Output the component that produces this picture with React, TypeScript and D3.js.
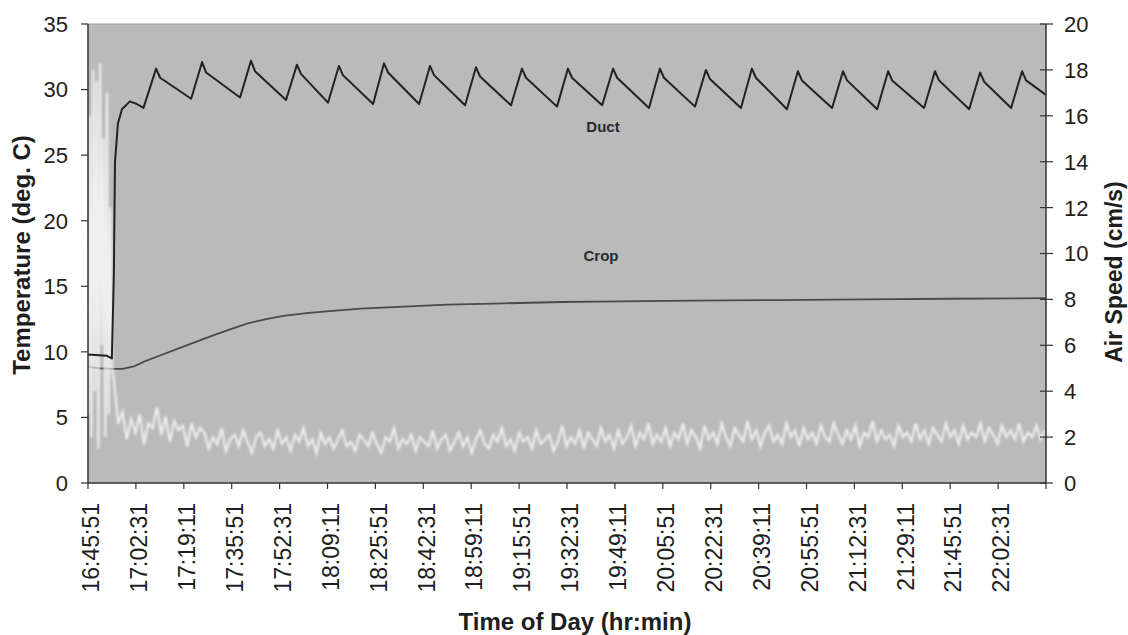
import React from "react";
import * as d3 from "d3";

// Duct and crop temperature (deg C, left axis) and air speed (cm/s, right axis)
// x values are minutes after 16:45:51

const xTickLabels = [
  "16:45:51", "17:02:31", "17:19:11", "17:35:51", "17:52:31", "18:09:11", "18:25:51",
  "18:42:31", "18:59:11", "19:15:51", "19:32:31", "19:49:11", "20:05:51", "20:22:31",
  "20:39:11", "20:55:51", "21:12:31", "21:29:11", "21:45:51", "22:02:31",
];
const tempTicks = [0, 5, 10, 15, 20, 25, 30, 35];
const speedTicks = [0, 2, 4, 6, 8, 10, 12, 14, 16, 18, 20];

const ductTemp: [number, number][] = [
  [0, 9.8], [6.6, 9.7], [8.3, 9.5], [9.0, 16.0], [9.4, 24.5], [10.4, 27.4], [11.8, 28.5],
  [14.6, 29.1], [17.0, 28.9], [19.3, 28.6],
  [23.7, 31.6], [25.1, 30.9], [35.9, 29.3],
  [39.7, 32.1], [41.1, 31.3], [52.9, 29.4],
  [56.7, 32.2], [58.1, 31.4], [68.9, 29.2],
  [72.7, 31.9], [74.1, 31.2], [83.5, 29.0],
  [87.3, 31.8], [88.7, 31.1], [99.2, 28.9],
  [103.0, 32.0], [104.4, 31.3], [115.2, 28.9],
  [119.0, 31.8], [120.4, 31.1], [131.2, 28.8],
  [135.0, 31.7], [136.4, 31.0], [147.2, 28.8],
  [151.0, 31.6], [152.4, 30.9], [163.2, 28.7],
  [167.0, 31.6], [168.4, 30.9], [178.9, 28.8],
  [182.7, 31.6], [184.1, 30.9], [195.2, 28.6],
  [199.0, 31.6], [200.4, 30.9], [211.2, 28.7],
  [215.0, 31.5], [216.4, 30.8], [227.2, 28.6],
  [231.0, 31.6], [232.4, 30.9], [243.2, 28.5],
  [247.0, 31.4], [248.4, 30.7], [258.9, 28.6],
  [262.7, 31.4], [264.1, 30.7], [274.6, 28.5],
  [278.4, 31.4], [279.8, 30.7], [290.9, 28.6],
  [294.7, 31.4], [296.1, 30.7], [306.6, 28.5],
  [310.4, 31.3], [311.8, 30.6], [321.2, 28.6],
  [325.0, 31.4], [326.4, 30.7], [333.3, 29.6],
];

const cropTemp: [number, number][] = [
  [0, 8.85], [4, 8.75], [8, 8.7], [12, 8.7], [16, 8.9], [20, 9.3], [26, 9.8], [32, 10.3],
  [38, 10.8], [44, 11.3], [50, 11.75], [56, 12.2], [62, 12.5], [68, 12.75], [76, 12.95],
  [84, 13.1], [95, 13.3], [110, 13.45], [125, 13.6], [145, 13.7], [165, 13.8],
  [185, 13.85], [210, 13.9], [240, 13.95], [270, 14.0], [300, 14.05], [333.3, 14.1],
];

// start-up burst of the anemometer
const speedStart: [number, number][] = [
  [0, 3], [0.6, 16], [1.2, 2], [1.8, 18], [2.4, 4], [3.0, 17.5], [3.6, 1.5], [4.2, 18.3],
  [4.8, 6], [5.4, 15], [6.0, 2], [6.6, 17], [7.2, 3], [7.8, 12], [8.4, 5],
];
// then one reading every 1.5 min from minute 9
const speedStep = 1.5;
const speedFrom = 9;
const speedValues = [
  4.5, 2.6, 3.1, 1.9, 2.8, 2.2, 3.0, 1.7, 2.6, 2.4, 3.3, 2.1, 2.9, 1.8, 2.7, 2.3, 2.5, 1.6, 2.6, 2.0, 2.4,
  2.2, 1.5, 2.0, 1.7, 2.4, 1.4, 1.9, 2.1, 1.6, 2.3,
  1.8, 1.3, 2.0, 2.2, 1.6, 1.9, 1.5, 2.3, 1.7, 2.0,
  1.4, 2.1, 1.8, 2.4, 1.6, 1.9, 1.3, 2.2, 1.7, 2.0,
  1.5, 1.9, 2.3, 1.6, 1.8, 1.4, 2.1, 1.9, 1.6, 2.2,
  1.7, 1.3, 2.0, 1.8, 2.4, 1.5, 1.9, 1.7, 2.1, 1.4,
  2.0, 1.8, 1.6, 2.3, 1.5, 1.9, 2.1, 1.4, 1.8, 2.2,
  1.6, 2.0, 1.3, 1.9, 2.3, 1.7, 1.5, 2.1, 1.8, 2.4,
  1.6, 1.9, 1.4, 2.2, 1.8, 2.0, 1.5, 2.3, 1.7, 1.9,
  2.1, 1.4, 1.8, 2.5, 1.6, 2.0, 1.7, 2.3, 1.5, 2.2,
  1.9, 1.6, 2.4, 1.8, 2.1, 1.5, 2.3, 1.7, 2.0, 2.5,
  1.6, 2.2, 1.9, 2.6, 1.7, 2.1, 1.8,
  2.4, 1.6, 2.2, 1.9, 2.6, 1.7, 2.3, 2.0, 1.5, 2.5,
  1.9, 2.2, 1.7, 2.6, 2.0, 1.6, 2.4, 2.1, 1.8, 2.7,
  1.9, 2.3, 1.6, 2.2, 2.5, 1.8, 2.1, 1.7, 2.6, 2.0,
  2.3, 1.6, 2.4, 1.9, 2.2, 1.7, 2.5, 2.0, 1.8, 2.6,
  2.1, 1.7, 2.3, 1.9, 2.5, 1.6, 2.2, 2.0, 2.7, 1.8,
  2.3, 1.9, 2.1, 1.6, 2.5, 2.0, 2.2, 1.8, 2.6, 1.9,
  2.3, 1.7, 2.4, 2.1, 1.8, 2.6, 2.0, 2.3, 1.7, 2.5,
  1.9, 2.2, 2.0, 2.6, 1.8, 2.4, 2.1, 1.7, 2.5, 2.0,
  2.3, 1.9, 2.6, 1.8, 2.2, 2.0, 2.5, 1.9, 2.3,
];

const FONT = "Arial, 'Liberation Sans', sans-serif";
const INK = "#1e1e1e";

export default function App() {
  const width = 1128, height = 635;
  const left = 88, right = 1046, top = 24, bottom = 483;

  // 20000 s across the axis, a tick every 1000 s
  const x = d3.scaleLinear().domain([0, 20000 / 60]).range([left, right]);
  const yT = d3.scaleLinear().domain([0, 35]).range([bottom, top]);
  const yS = d3.scaleLinear().domain([0, 20]).range([bottom, top]);

  const tempLine = d3.line<[number, number]>().x(d => x(d[0])).y(d => yT(d[1]));
  const speedLine = d3.line<[number, number]>().x(d => x(d[0])).y(d => yS(d[1]));

  const speedData: [number, number][] = speedStart.concat(
    speedValues.map((v, i) => [speedFrom + i * speedStep, v] as [number, number])
  );

  const xTicks = d3.range(0, 21).map(k => (k * 1000) / 60);

  return (
    <svg width={width} height={height} style={{ position: "absolute", left: 0, top: 0, background: "#fff" }}>
      <defs>
        <filter id="soft" x="-5%" y="-5%" width="110%" height="110%">
          <feGaussianBlur stdDeviation="0.9" />
        </filter>
      </defs>
      <rect x={left} y={top} width={right - left} height={bottom - top} fill="#bababa" />
      <line x1={left} x2={right} y1={top} y2={top} stroke="#9a9a9a" strokeWidth={1} />

      <path d={tempLine(cropTemp) || ""} fill="none" stroke="#4a4a4a" strokeWidth={1.8} />
      <path d={speedLine(speedData) || ""} fill="none" stroke="#f8f8f8" strokeWidth={2.2}
        strokeOpacity={0.85} filter="url(#soft)" />
      <path d={tempLine(ductTemp) || ""} fill="none" stroke="#222" strokeWidth={2} strokeLinejoin="round" />

      <text x={603} y={132} textAnchor="middle" fontFamily={FONT} fontWeight="bold" fontSize={15} fill="#2a2a2a">Duct</text>
      <text x={601} y={261} textAnchor="middle" fontFamily={FONT} fontWeight="bold" fontSize={15} fill="#2a2a2a">Crop</text>

      {/* left axis */}
      <line x1={left} x2={left} y1={top} y2={bottom} stroke="#333" strokeWidth={1.5} />
      {tempTicks.map(t => (
        <g key={"l" + t}>
          <line x1={left - 7} x2={left} y1={yT(t)} y2={yT(t)} stroke="#333" strokeWidth={1.2} />
          <text x={68} y={yT(t)} dy="0.36em" textAnchor="end" fontFamily={FONT} fontSize={22} fill={INK}>{t}</text>
        </g>
      ))}

      {/* right axis */}
      <line x1={right} x2={right} y1={top} y2={bottom} stroke="#333" strokeWidth={1.5} />
      {speedTicks.map(t => (
        <g key={"r" + t}>
          <line x1={right - 6} x2={right + 7} y1={yS(t)} y2={yS(t)} stroke="#333" strokeWidth={1.2} />
          <text x={1064} y={yS(t)} dy="0.36em" textAnchor="start" fontFamily={FONT} fontSize={22} fill={INK}>{t}</text>
        </g>
      ))}

      {/* bottom axis */}
      <line x1={left} x2={right} y1={bottom} y2={bottom} stroke="#333" strokeWidth={1.5} />
      {xTicks.map((t, i) => (
        <line key={"bt" + i} x1={x(t)} x2={x(t)} y1={bottom} y2={bottom + 6} stroke="#333" strokeWidth={1.2} />
      ))}
      {xTickLabels.map((lab, i) => (
        <text key={"bl" + i} transform={`translate(${x(xTicks[i]) + 3},503) rotate(-90)`} dy="0.36em"
          textAnchor="end" fontFamily={FONT} fontSize={23} fill={INK}>{lab}</text>
      ))}

      <text x={575} y={630} textAnchor="middle" fontFamily={FONT} fontWeight="bold" fontSize={24} fill={INK}>
        Time of Day (hr:min)
      </text>
      <text transform="translate(30,255) rotate(-90)" textAnchor="middle" fontFamily={FONT} fontWeight="bold"
        fontSize={24} fill={INK}>Temperature (deg. C)</text>
      <text transform="translate(1122,272) rotate(-90)" textAnchor="middle" fontFamily={FONT} fontWeight="bold"
        fontSize={23} fill={INK}>Air Speed (cm/s)</text>
    </svg>
  );
}
